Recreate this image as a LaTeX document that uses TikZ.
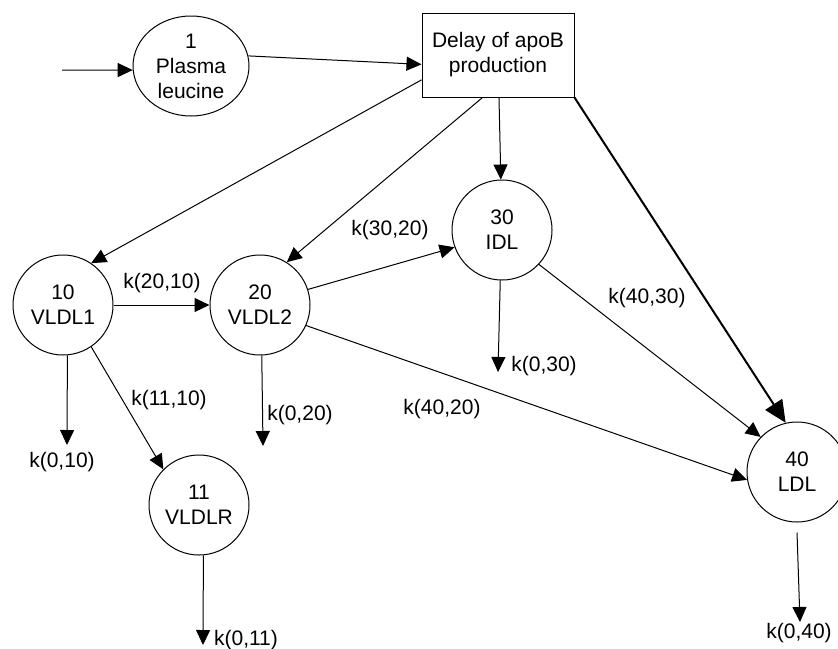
\documentclass[tikz,border=0pt]{standalone}
\usepackage{fontspec}
\setmainfont{Liberation Sans}
\usetikzlibrary{arrows.meta,shapes.geometric}
\begin{document}
\begin{tikzpicture}
		[x=0.5pt,y=-0.5pt,
		every node/.style={font=\fontsize{10.5}{12.5}\selectfont,align=center},
		pool/.style={draw,circle,line width=0.5pt,minimum size=50pt,inner sep=0pt},
		source/.style={draw,ellipse,line width=0.5pt,minimum width=58pt,minimum height=50pt,inner sep=0pt},
		delaybox/.style={draw,rectangle,line width=0.5pt,minimum width=76pt,minimum height=42pt,inner sep=0pt},
		flow/.style={draw,line width=0.5pt,-{Triangle[length=7.5pt,width=7pt]}},
		bigflow/.style={draw,line width=1pt,-{Triangle[length=11pt,width=10pt]}},
		rate/.style={inner sep=0pt}]
		\useasboundingbox (0,0) rectangle (838,648);
		\node[source] (plasma) at (191,66) {1\\Plasma\\leucine};
		\node[delaybox] (delay) at (498,55) {Delay of apoB\\production};
		\node[pool] (vldl1) at (63,305) {10\\VLDL1};
		\node[pool] (vldl2) at (260,305) {20\\VLDL2};
		\node[pool] (vldlr) at (199,505) {11\\VLDLR};
		\node[pool] (idl) at (502,230) {30\\IDL};
		\node[pool] (ldl) at (797,472) {40\\LDL};
		\coordinate (in) at (62,70);
		\coordinate (out10) at (67,445);
		\coordinate (out20) at (263,446);
		\coordinate (out11) at (203,645);
		\coordinate (out30) at (498,372);
		\coordinate (out40) at (800,622);
		\node[rate] (k2010) at (162,283) {k(20,10)};
		\node[rate] (k3020) at (390,230) {k(30,20)};
		\node[rate] (k1110) at (169,400) {k(11,10)};
		\node[rate] (k4020) at (442,409) {k(40,20)};
		\node[rate] (k4030) at (647,298) {k(40,30)};
		\node[rate] (k010) at (62,462) {k(0,10)};
		\node[rate] (k020) at (300,415) {k(0,20)};
		\node[rate] (k011) at (246,640) {k(0,11)};
		\node[rate] (k030) at (544,366) {k(0,30)};
		\node[rate] (k040) at (799,633) {k(0,40)};
		\draw[flow] (in) -- (plasma.184);
		\draw[flow] (plasma.10) -- (delay.187);
		\draw[flow] (delay.198) -- (vldl1.56);
		\draw[flow] (delay.250) -- (vldl2.58);
		\draw[flow] (delay) -- (idl);
		\draw[bigflow] (delay.south east) -- (ldl.103);
		\draw[flow] (vldl1) -- (vldl2);
		\draw[flow] (vldl2.18) -- (idl.200);
		\draw[flow] (vldl2.336) -- (ldl.189);
		\draw[flow] (idl.317) -- (ldl.136);
		\draw[flow] (vldl1.304) -- (vldlr.135);
		\draw[flow] (vldl1.275) -- (out10);
		\draw[flow] (vldl2.272) -- (out20);
		\draw[flow] (vldlr.275) -- (out11);
		\draw[flow] (idl.268) -- (out30);
		\draw[flow] ([yshift=-5pt]ldl.south) -- (out40);
	\end{tikzpicture}
\end{document}
